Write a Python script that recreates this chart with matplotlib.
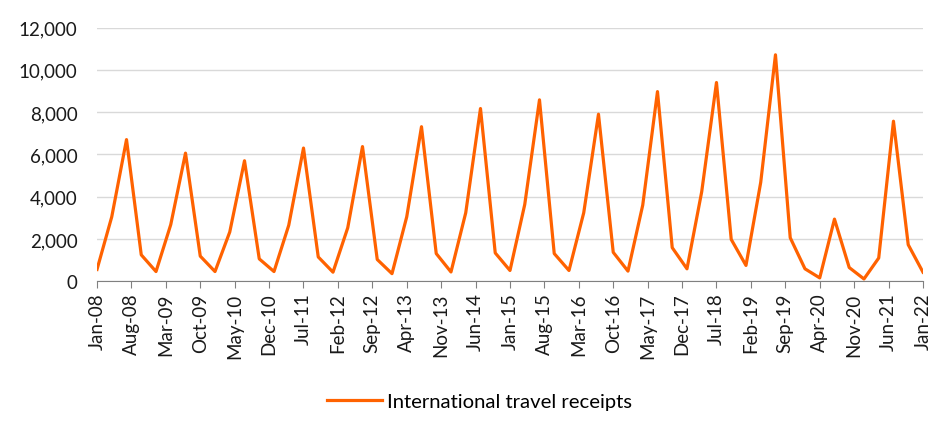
import numpy as np
import pandas as pd
import matplotlib.pyplot as plt
from matplotlib.ticker import FuncFormatter

# quarterly values, Jan-08 .. Jan-22
receipts = [
    560, 3050, 6700, 1250,
    460, 2680, 6060, 1190,
    460, 2330, 5700, 1060,
    460, 2650, 6300, 1150,
    430, 2530, 6370, 1030,
    360, 3050, 7310, 1310,
    440, 3240, 8170, 1340,
    510, 3630, 8580, 1310,
    510, 3240, 7900, 1370,
    480, 3600, 8970, 1590,
    590, 4240, 9400, 1980,
    750, 4680, 10710, 2060,
    590, 160, 2940, 650,
    110, 1100, 7570, 1730,
    430,
]
dates = pd.date_range('2008-01-01', periods=len(receipts), freq='3MS')
tick_dates = pd.date_range('2008-01-01', '2022-01-01', freq='7MS')
series_name = 'International travel receipts'

def months_since_start(d):
    return (d.year - 2008) * 12 + (d.month - 1)

x = np.array([months_since_start(d) for d in dates])
tx = np.array([months_since_start(d) for d in tick_dates])
tlabels = [d.strftime('%b-%y') for d in tick_dates]

plt.rcParams['font.family'] = ['Lato', 'DejaVu Sans']
fig = plt.figure(figsize=(9.52, 4.39), dpi=100)
ax = fig.add_axes([0.1019, 0.357, 0.8676, 0.578])

ax.plot(x, receipts, color='#FF6200', linewidth=2.3, label=series_name)

ax.set_xlim(0, 168)
ax.set_ylim(0, 12000)
ax.set_yticks(np.arange(0, 12001, 2000))
ax.yaxis.set_major_formatter(FuncFormatter(lambda v, p: '{:,.0f}'.format(v)))
ax.set_xticks(tx)
ax.set_xticklabels(tlabels, rotation=90)

ax.grid(axis='y', color='#d9d9d9', linewidth=1)
ax.set_axisbelow(True)
for s in ['top', 'right', 'left']:
    ax.spines[s].set_visible(False)
ax.spines['bottom'].set_color('#808080')
ax.tick_params(axis='y', length=0, labelsize=13.5, pad=14, colors='#1a1a1a')
ax.tick_params(axis='x', length=5, color='#808080', labelsize=13.5, pad=3, labelcolor='#1a1a1a')

fig.legend(loc='center', bbox_to_anchor=(0.504, 0.084), frameon=False,
           fontsize=14.6, handlelength=2.7, handletextpad=0.25)

fig.savefig('out.png', dpi=100)
